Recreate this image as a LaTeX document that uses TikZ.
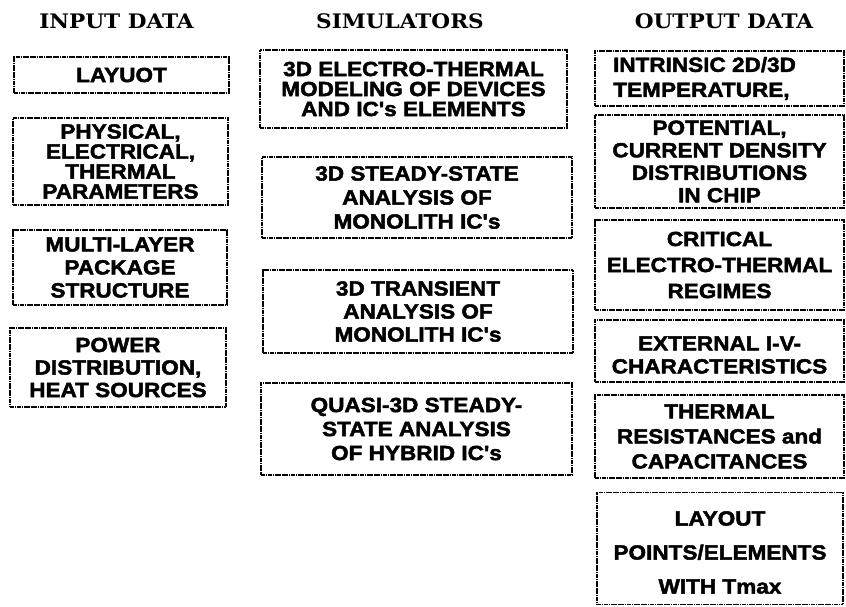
\documentclass[tikz,border=0pt]{standalone}
\usepackage{fontspec}
\setmainfont{Liberation Sans}
\newfontfamily\boxfont[FakeStretch=1.1, BoldFeatures={FakeBold=2.2}]{Liberation Sans}
\newfontfamily\titlefont[FakeStretch=1.08]{DejaVu Serif}
\tikzset{
  boxline/.style={draw=black, line width=1.2pt, dash pattern=on 1.8pt off 0.5pt,
    inner sep=0pt},
  databox/.style={boxline, align=center,
    font=\boxfont\bfseries\fontsize{20.5}{#1}\selectfont},
  databox/.default=22,
  boxtext/.style={inner sep=0pt, align=center,
    font=\boxfont\bfseries\fontsize{20.5}{#1}\selectfont},
  coltitle/.style={font=\titlefont\bfseries\fontsize{20}{22}\selectfont, inner sep=0pt, anchor=base}
}
\begin{document}
\begin{tikzpicture}[x=1pt,y=-1pt]
\useasboundingbox (0,0) rectangle (846,606);
% titles
\node[coltitle] (tin) at (116.5,28) {INPUT DATA};
\node[coltitle] (tsim) at (400,28) {SIMULATORS};
\node[coltitle] (tout) at (724,28) {OUTPUT DATA};
% input data
\node[databox, minimum width=215pt, minimum height=36pt] (layuot) at (121.5,75) {LAYUOT};
\node[databox=20, minimum width=215pt, minimum height=87pt] (phys) at (120.5,161.5) {PHYSICAL,\\ELECTRICAL,\\THERMAL\\PARAMETERS};
\node[databox=23, minimum width=214pt, minimum height=75pt] (multi) at (120,267.5) {MULTI-LAYER\\PACKAGE\\STRUCTURE};
\node[databox=22.5, minimum width=216pt, minimum height=79pt] (power) at (118,367.5) {POWER\\DISTRIBUTION,\\HEAT SOURCES};
% simulators
\node[databox=20, minimum width=307pt, minimum height=78pt] (s1) at (413.5,89) {3D ELECTRO-THERMAL\\MODELING OF DEVICES\\AND IC's ELEMENTS};
\node[databox=24, minimum width=310pt, minimum height=81pt] (s2) at (417,197.5) {3D STEADY-STATE\\ANALYSIS OF\\MONOLITH IC's};
\node[databox=23, minimum width=310pt, minimum height=83pt] (s3) at (418,311.5) {3D TRANSIENT\\ANALYSIS OF\\MONOLITH IC's};
\node[databox=24, minimum width=311pt, minimum height=92pt] (s4) at (416.5,429) {QUASI-3D STEADY-\\STATE ANALYSIS\\OF HYBRID IC's};
% output data
\node[databox=25, minimum width=249pt, minimum height=55pt] (o1) at (719.5,78.5) {INTRINSIC 2D/3D\hspace*{30pt}\\TEMPERATURE,\hspace*{36pt}};
\node[databox=22.5, minimum width=249pt, minimum height=93pt] (o2) at (719.5,161.5) {POTENTIAL,\\CURRENT DENSITY\\DISTRIBUTIONS\\IN CHIP};
\node[databox=26, minimum width=249pt, minimum height=90pt] (o3) at (719.5,265) {CRITICAL\\ELECTRO-THERMAL\\REGIMES};
\node[boxline, minimum width=249pt, minimum height=62pt] (o4) at (719.5,351) {};
\node[boxtext=23] (o4t) at ([yshift=-4pt]o4.center) {EXTERNAL I-V-\\CHARACTERISTICS};
\node[databox=25, minimum width=249pt, minimum height=83pt] (o5) at (719.5,436.5) {THERMAL\\RESISTANCES and\\CAPACITANCES};
\node[boxline, minimum width=246pt, minimum height=112pt] (o6) at (720,548.5) {};
\node[boxtext=34] (o6t) at ([yshift=-4pt]o6.center) {LAYOUT\\POINTS/ELEMENTS\\WITH Tmax};
\end{tikzpicture}
\end{document}
